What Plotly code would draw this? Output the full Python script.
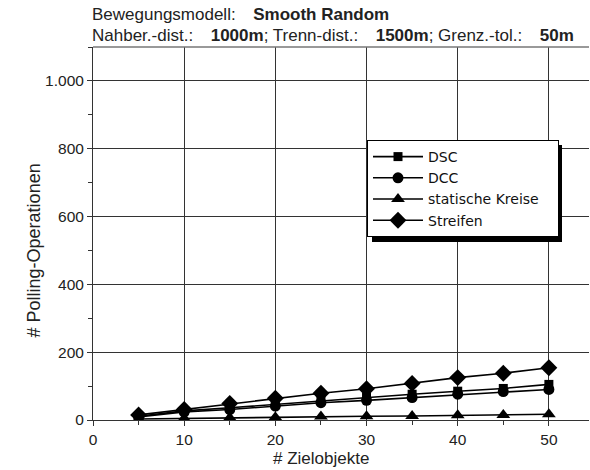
import plotly.graph_objects as go

x_objs = [5, 10, 15, 20, 25, 30, 35, 40, 45, 50]
dsc = [11, 27, 36, 46, 58, 68, 76, 85, 93, 105]
dcc = [9, 24, 31, 41, 51, 58, 66, 76, 84, 90]
statisch = [3, 5, 7, 8, 10, 11, 12, 14, 15, 17]
streifen = [15, 31, 49, 64, 79, 92, 108, 125, 138, 154]

series_names = ["DSC", "DCC", "statische Kreise", "Streifen"]
series_vals = [dsc, dcc, statisch, streifen]
symbols = ["square", "circle", "triangle-up", "diamond"]
sizes = [9, 11, 12, 13]

W, H = 590, 470
ml, mr, mt, mb = 93, 1, 47, 50
pw, ph = W - ml - mr, H - mt - mb

fig = go.Figure()
for name, vals, sym, sz in zip(series_names, series_vals, symbols, sizes):
    label = name + ("\u00a0\u00a0\u00a0" if name == "statische Kreise" else "")
    fig.add_trace(go.Scatter(
        x=x_objs, y=vals, name=label, mode="lines+markers",
        line=dict(color="black", width=1.6),
        marker=dict(symbol=sym, size=sz, color="black"),
    ))

font = "Liberation Sans, Arial, sans-serif"

# legend box position in pixels
lx0, ly0, lx1, ly1 = 367, 140, 557, 237

def px2paper_x(p):
    return (p - ml) / pw

def px2paper_y(p):
    return (H - mb - p) / ph

sp = "\u00a0" * 3 + "\u2009"

fig.update_layout(
    width=W, height=H,
    margin=dict(l=ml, r=mr, t=mt, b=mb),
    paper_bgcolor="white", plot_bgcolor="white",
    font=dict(family=font, size=15, color="#222"),
    separators=",.",
    showlegend=True,
    legend=dict(
        x=px2paper_x(lx0), y=px2paper_y(ly0), xanchor="left", yanchor="top",
        bgcolor="white", bordercolor="black", borderwidth=1,
        font=dict(family="DejaVu Sans, sans-serif", size=14, color="#111"),
        itemwidth=50, tracegroupgap=0,
    ),
    xaxis=dict(
        range=[0, 54.4], tickmode="linear", tick0=0, dtick=10,
        showgrid=True, gridcolor="#333", gridwidth=1,
        showline=True, linecolor="#333", linewidth=1,
        ticks="outside", ticklen=5, tickcolor="#333",
        minor=dict(dtick=5, tick0=0, ticks="outside", ticklen=4, tickcolor="#333", showgrid=False),
        zeroline=False,
        tickfont=dict(size=15.5, color="#222"),
    ),
    yaxis=dict(
        range=[0, 1100], tickmode="linear", tick0=0, dtick=200, tickformat=",d",
        showgrid=True, gridcolor="#333", gridwidth=1,
        showline=True, linecolor="#333", linewidth=1,
        ticks="outside", ticklen=5, tickcolor="#333",
        minor=dict(dtick=100, tick0=0, ticks="outside", ticklen=4, tickcolor="#333", showgrid=False),
        zeroline=False,
        tickfont=dict(size=15.5, color="#222"),
    ),
    shapes=[
        dict(type="line", xref="paper", yref="paper", x0=0, x1=1, y0=1, y1=1,
             line=dict(color="#777", width=1.5)),
        dict(type="rect", xref="paper", yref="paper",
             x0=px2paper_x(lx0 + 5), x1=px2paper_x(lx1 + 5),
             y0=px2paper_y(ly1 + 5), y1=px2paper_y(ly0 + 5),
             fillcolor="black", line=dict(width=0), layer="above"),
    ],
    annotations=[
        dict(text="Bewegungsmodell:" + sp + "<b>Smooth Random</b>", xref="paper", yref="paper",
             x=px2paper_x(90), y=px2paper_y(15), xanchor="left", yanchor="middle",
             showarrow=False, font=dict(size=17, color="#222")),
        dict(text="Nahber.-dist.:" + sp + "<b>1000m</b>; Trenn-dist.:" + sp + "<b>1500m</b>; Grenz.-tol.:" + sp + "<b>50m</b>",
             xref="paper", yref="paper",
             x=px2paper_x(90), y=px2paper_y(36), xanchor="left", yanchor="middle",
             showarrow=False, font=dict(size=17, color="#222")),
        dict(text="# Zielobjekte", xref="x", yref="paper", x=25, y=px2paper_y(458),
             xanchor="center", yanchor="middle", showarrow=False,
             font=dict(size=17, color="#222")),
        dict(text="# Polling-Operationen", xref="paper", yref="y", x=px2paper_x(34), y=500,
             xanchor="center", yanchor="middle", textangle=-90, showarrow=False,
             font=dict(size=18, color="#222")),
    ],
)

fig.write_html("out.html")
